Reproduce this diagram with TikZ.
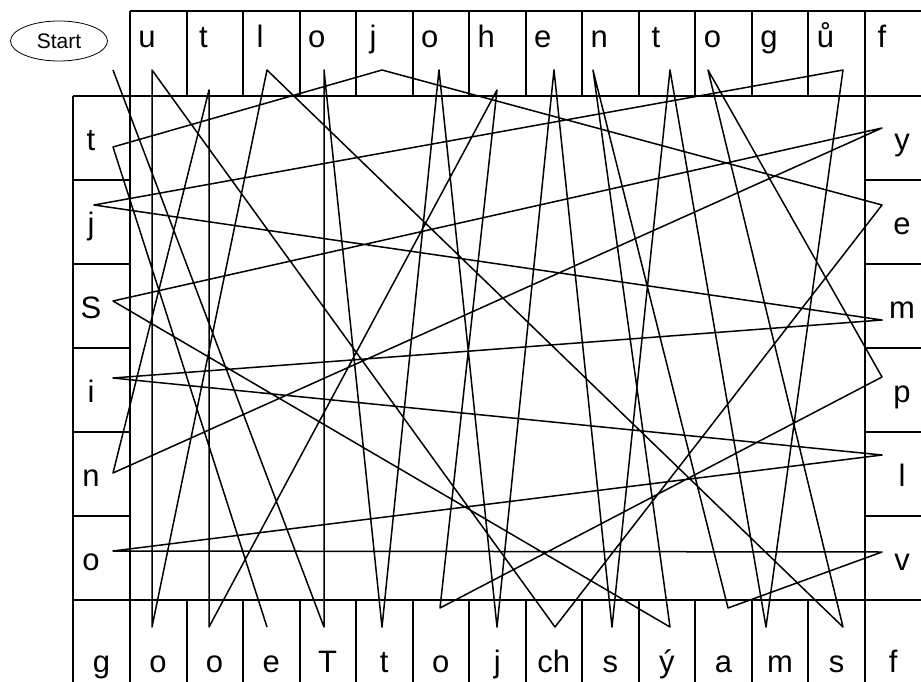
\documentclass[tikz,border=0pt]{standalone}
\usepackage{fontspec}
\setmainfont{Liberation Sans}
\usepackage{tikz}
\usetikzlibrary{shapes.geometric}
\tikzset{cell/.style={line width=2pt,black},
trail/.style={line width=1.5pt,line join=round,black},
letter/.style={anchor=base,inner sep=0pt,font=\fontsize{31}{31}\selectfont},
startbox/.style={ellipse,draw,line width=.8pt,minimum width=97pt,minimum height=40pt,inner sep=0pt,font=\fontsize{21}{21}\selectfont}}

\begin{document}
\begin{tikzpicture}[x=1pt,y=-1pt]
\useasboundingbox (0,0) rectangle (921,682);
% frame of the letter cells
\draw[cell] (130,11)--(930,11) (73,96)--(930,96) (73,600)--(930,600);
\draw[cell] (73,96)--(73,690) (130,11)--(130,690) (865,11)--(865,690);
\foreach \i in {1,...,12} {
\draw[cell] ({130+\i*56.54},11)--++(0,85);
\draw[cell] ({130+\i*56.54},600)--++(0,90);}
\foreach \r in {1,...,5} {
\draw[cell] (73,{96+\r*84})--(130,{96+\r*84});
\draw[cell] (865,{96+\r*84})--(930,{96+\r*84});}
% letters
\foreach \ch [count=\i] in {u,t,l,o,j,o,h,e,n,t,o,g,ů,f}
\node[letter] (top\i) at ({90.46+\i*56.54},48) {\ch};
\foreach \ch [count=\i from 0] in {g,o,o,e,T,t,o,j,ch,s,ý,a,m,s,f}
\node[letter] (bot\i) at ({101.5+\i*56.54},672) {\ch};
\foreach \ch [count=\i] in {t,j,S,i,n,o}
\node[letter] (lft\i) at (91,{66+\i*84}) {\ch};
\foreach \ch [count=\i] in {y,e,m,p,l,v}
\node[letter] (rgt\i) at (902,{66+\i*84}) {\ch};
\node[startbox] (start) at (59,41) {Start};
% line ends
\coordinate (go) at (113,70);
\foreach \n/\x/\y in {T1/152/70,T2/209/90,T3/267/70,T4/324/70,T5/382/70,T6/439/70,T7/497/90,
T8/554/70,T9/593/70,T10/670/70,T11/708/70,T13/843/70,
B1/152/627,B2/209/627,B3/267/627,B4/324/627,B5/382/627,B6/440/608,B7/497/627,
B8/555/627,B9/612/627,B10/670/627,B11/728/608,B12/766/627,B13/843/627,
L1/113/147,L2/94/205,L3/113/301,L4/113/378,L5/113/473,L6/113/551,
R1/882/128,R2/882/205,R3/882/320,R4/882/377,R5/882/455,R6/882/552}
\coordinate (\n) at (\x,\y);
% the trail
\draw[trail] (go)--(B4)--(T4)--(B5)--(T6)--(B7)--(T8)--(B9)--(T10)--(B12)--(T13)
--(L2)--(R3)--(L4)--(R5)--(L6)--(R6)--(B11)--(T9)--(B10)--(L3)--(R1)--(L5)
--(T2)--(B2)--(T7)--(B6)--(R4)--(T11)--(B13)--(T3)--(B1)--(T1)--(B8)--(R2)
--(T5)--(L1)--(B3);
\end{tikzpicture}
\end{document}
